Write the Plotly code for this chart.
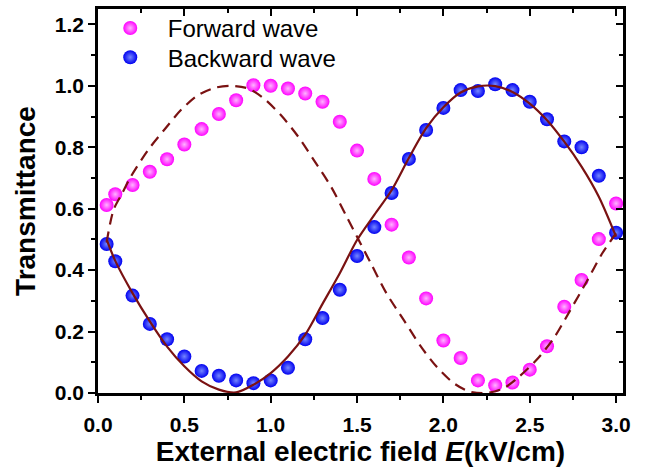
import plotly.graph_objects as go

# ---------------- data ----------------
field = [0.05, 0.1, 0.2, 0.3, 0.4, 0.5, 0.6, 0.7, 0.8, 0.9, 1.0, 1.1, 1.2, 1.3, 1.4, 1.5,
         1.6, 1.7, 1.8, 1.9, 2.0, 2.1, 2.2, 2.3, 2.4, 2.5, 2.6, 2.7, 2.8, 2.9, 3.0]
forward = [0.612, 0.647, 0.677, 0.720, 0.761, 0.809, 0.859, 0.908, 0.953, 1.002, 1.000,
           0.991, 0.975, 0.948, 0.883, 0.789, 0.697, 0.548, 0.441, 0.308, 0.171, 0.114,
           0.041, 0.025, 0.034, 0.076, 0.152, 0.281, 0.368, 0.501, 0.617]
backward = [0.485, 0.429, 0.317, 0.225, 0.175, 0.119, 0.072, 0.056, 0.041, 0.032, 0.041,
            0.082, 0.175, 0.244, 0.336, 0.446, 0.540, 0.651, 0.762, 0.856, 0.928, 0.986,
            0.983, 1.005, 0.986, 0.948, 0.891, 0.819, 0.800, 0.707, 0.522]

solid_x = field
solid_y = [0.50, 0.43, 0.325, 0.233, 0.151, 0.087, 0.038, 0.011, 0.002, 0.027, 0.065,
           0.119, 0.19, 0.29, 0.39, 0.498, 0.58, 0.66, 0.765, 0.862, 0.93, 0.978, 0.998,
           0.999, 0.98, 0.942, 0.888, 0.818, 0.737, 0.639, 0.509]

dash_x = [0.05, 0.09, 0.14, 0.19, 0.29, 0.39, 0.48, 0.58, 0.68, 0.77, 0.87, 0.96, 1.06,
          1.16, 1.25, 1.35, 1.44, 1.52, 1.58, 1.67, 1.77, 1.87, 1.96, 2.06, 2.15, 2.25,
          2.35, 2.44, 2.54, 2.64, 2.73, 2.83, 2.92, 3.0]
dash_y = [0.49, 0.596, 0.65, 0.704, 0.791, 0.861, 0.921, 0.97, 0.994, 1.0, 0.991, 0.959,
          0.904, 0.834, 0.758, 0.671, 0.574, 0.487, 0.422, 0.325, 0.238, 0.151, 0.086,
          0.032, 0.005, 0.0, 0.016, 0.054, 0.108, 0.179, 0.265, 0.363, 0.455, 0.52]

x_ticks = [0.0, 0.5, 1.0, 1.5, 2.0, 2.5, 3.0]
y_ticks = [0.0, 0.2, 0.4, 0.6, 0.8, 1.0, 1.2]

# ---------------- styles ----------------
PINK = "#ff00ff"
BLUE = "#0000f0"
LINE = "#7a1212"
FONT = "Liberation Sans, Arial, sans-serif"
XR = [0, 3.04]
YR = [0, 1.25]

fig = go.Figure()

fig.add_trace(go.Scatter(
    x=field, y=forward, mode="markers", name="Forward wave", legend="legend",
    marker=dict(size=14, color=PINK, line=dict(width=0),
                gradient=dict(type="radial", color="#ffb4ff")),
))
fig.add_trace(go.Scatter(
    x=field, y=backward, mode="markers", name="Backward wave", legend="legend2",
    marker=dict(size=14, color=BLUE, line=dict(width=0),
                gradient=dict(type="radial", color="#7486ff")),
))
fig.add_trace(go.Scatter(
    x=solid_x, y=solid_y, mode="lines", showlegend=False,
    line=dict(color=LINE, width=2.2, shape="spline", smoothing=0.8),
))
fig.add_trace(go.Scatter(
    x=dash_x, y=dash_y, mode="lines", showlegend=False,
    line=dict(color=LINE, width=2.2, dash="11px,7px", shape="spline", smoothing=0.8),
))
# invisible trace for mirrored inside-tick axes
fig.add_trace(go.Scatter(x=[None], y=[None], xaxis="x2", yaxis="y2",
                         showlegend=False, hoverinfo="skip"))

axis_common = dict(showline=True, linecolor="black", linewidth=2.5, showgrid=False,
                   zeroline=False, ticks="outside", ticklen=7, tickwidth=2,
                   tickcolor="black")

legend_common = dict(x=-0.01, xanchor="left", yanchor="top",
                     bgcolor="rgba(0,0,0,0)", font=dict(family=FONT, size=24),
                     itemwidth=65, tracegroupgap=0)

fig.update_layout(
    width=647, height=468,
    margin=dict(l=98, r=24, t=9, b=75, autoexpand=False),
    paper_bgcolor="white", plot_bgcolor="white",
    font=dict(family=FONT, color="black"),
    xaxis=dict(
        **axis_common, range=XR, tickvals=x_ticks, tickformat=".1f",
        minor=dict(ticks="outside", ticklen=4, tickwidth=2, tickcolor="black", dtick=0.25, tick0=0),
        tickfont=dict(family=FONT, size=21, weight="bold"), ticklabelstandoff=4,
        title=dict(text="External electric field <i>E</i>(kV/cm)",
                   font=dict(family=FONT, size=28, weight="bold"), standoff=2),
    ),
    yaxis=dict(
        **axis_common, range=YR, tickvals=y_ticks, tickformat=".1f",
        minor=dict(ticks="outside", ticklen=4, tickwidth=2, tickcolor="black", dtick=0.1, tick0=0),
        tickfont=dict(family=FONT, size=21, weight="bold"),
        title=dict(text="Transmittance", font=dict(family=FONT, size=28, weight="bold"),
                   standoff=12),
    ),
    xaxis2=dict(overlaying="x", side="top", range=XR, showline=True, linecolor="black",
                linewidth=2.5, showgrid=False, zeroline=False, showticklabels=False,
                tickvals=x_ticks, ticks="inside", ticklen=7, tickwidth=2, tickcolor="black",
                minor=dict(ticks="inside", ticklen=4, tickwidth=2, tickcolor="black",
                           dtick=0.25, tick0=0)),
    yaxis2=dict(overlaying="y", side="right", range=YR, showline=True, linecolor="black",
                linewidth=2.5, showgrid=False, zeroline=False, showticklabels=False,
                tickvals=y_ticks, ticks="inside", ticklen=7, tickwidth=2, tickcolor="black",
                minor=dict(ticks="inside", ticklen=4, tickwidth=2, tickcolor="black",
                           dtick=0.1, tick0=0)),
    legend=dict(**legend_common, y=1.008),
    legend2=dict(**legend_common, y=0.932),
    showlegend=True,
)

fig.write_html("out.html")
